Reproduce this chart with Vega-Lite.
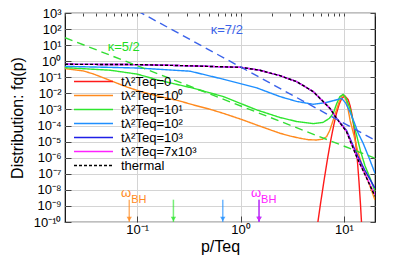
{
  "$schema": "https://vega.github.io/schema/vega-lite/v6.json",
  "width": 310,
  "height": 209,
  "autosize": "none",
  "padding": {"left": 65, "top": 13, "right": 24, "bottom": 57},
  "config": {
    "font": "Liberation Sans",
    "view": {"stroke": "black", "strokeWidth": 1.2},
    "axis": {"labelFontSize": 13, "labelColor": "black", "gridColor": "#d4d4d4", "gridWidth": 1, "domain": false, "tickColor": "#444", "titleFontWeight": "normal", "titleColor": "black", "titleFontSize": 16},
    "legend": {"padding": 0}
  },
  "resolve": {"axis": {"x": "independent", "y": "independent"}},
  "datasets": {
    "curves": [
      {"s": "tλ²Teq=0", "p": 5.4, "f": 2.1e-11},
      {"s": "tλ²Teq=0", "p": 5.6, "f": 1e-10},
      {"s": "tλ²Teq=0", "p": 6.0, "f": 2.14e-9},
      {"s": "tλ²Teq=0", "p": 6.5, "f": 6.17e-8},
      {"s": "tλ²Teq=0", "p": 7.0, "f": 1.17e-6},
      {"s": "tλ²Teq=0", "p": 7.5, "f": 1.45e-5},
      {"s": "tλ²Teq=0", "p": 8.0, "f": 1.15e-4},
      {"s": "tλ²Teq=0", "p": 8.5, "f": 6.03e-4},
      {"s": "tλ²Teq=0", "p": 9.0, "f": 2.09e-3},
      {"s": "tλ²Teq=0", "p": 9.5, "f": 4.68e-3},
      {"s": "tλ²Teq=0", "p": 10.2, "f": 7.08e-3},
      {"s": "tλ²Teq=0", "p": 11.0, "f": 4.07e-3},
      {"s": "tλ²Teq=0", "p": 11.5, "f": 1.66e-3},
      {"s": "tλ²Teq=0", "p": 12.0, "f": 4.47e-4},
      {"s": "tλ²Teq=0", "p": 12.5, "f": 7.94e-5},
      {"s": "tλ²Teq=0", "p": 13.0, "f": 8.91e-6},
      {"s": "tλ²Teq=0", "p": 13.5, "f": 6.76e-7},
      {"s": "tλ²Teq=0", "p": 14.0, "f": 3.24e-8},
      {"s": "tλ²Teq=0", "p": 14.5, "f": 1.05e-9},
      {"s": "tλ²Teq=0", "p": 14.8, "f": 1e-10},
      {"s": "tλ²Teq=0", "p": 15.0, "f": 2.1e-11},

      {"s": "tλ²Teq=10⁰", "p": 0.02, "f": 0.347},
      {"s": "tλ²Teq=10⁰", "p": 0.03, "f": 0.251},
      {"s": "tλ²Teq=10⁰", "p": 0.038, "f": 0.158},
      {"s": "tλ²Teq=10⁰", "p": 0.055, "f": 0.063},
      {"s": "tλ²Teq=10⁰", "p": 0.079, "f": 0.0251},
      {"s": "tλ²Teq=10⁰", "p": 0.11, "f": 0.0126},
      {"s": "tλ²Teq=10⁰", "p": 0.166, "f": 0.00631},
      {"s": "tλ²Teq=10⁰", "p": 0.25, "f": 0.00355},
      {"s": "tλ²Teq=10⁰", "p": 0.35, "f": 0.00191},
      {"s": "tλ²Teq=10⁰", "p": 0.5, "f": 0.00105},
      {"s": "tλ²Teq=10⁰", "p": 0.68, "f": 0.000575},
      {"s": "tλ²Teq=10⁰", "p": 1.0, "f": 0.000251},
      {"s": "tλ²Teq=10⁰", "p": 1.44, "f": 0.000107},
      {"s": "tλ²Teq=10⁰", "p": 2.0, "f": 5.01e-5},
      {"s": "tλ²Teq=10⁰", "p": 2.41, "f": 3.31e-5},
      {"s": "tλ²Teq=10⁰", "p": 3.0, "f": 2.24e-5},
      {"s": "tλ²Teq=10⁰", "p": 3.76, "f": 1.62e-5},
      {"s": "tλ²Teq=10⁰", "p": 4.5, "f": 1.32e-5},
      {"s": "tλ²Teq=10⁰", "p": 5.45, "f": 1.26e-5},
      {"s": "tλ²Teq=10⁰", "p": 6.2, "f": 1.41e-5},
      {"s": "tλ²Teq=10⁰", "p": 6.81, "f": 2.04e-5},
      {"s": "tλ²Teq=10⁰", "p": 7.3, "f": 5.01e-5},
      {"s": "tλ²Teq=10⁰", "p": 7.89, "f": 2.24e-4},
      {"s": "tλ²Teq=10⁰", "p": 8.5, "f": 1e-3},
      {"s": "tλ²Teq=10⁰", "p": 8.91, "f": 2.51e-3},
      {"s": "tλ²Teq=10⁰", "p": 9.4, "f": 5.62e-3},
      {"s": "tλ²Teq=10⁰", "p": 9.77, "f": 7.94e-3},
      {"s": "tλ²Teq=10⁰", "p": 10.2, "f": 6.31e-3},
      {"s": "tλ²Teq=10⁰", "p": 10.7, "f": 2.51e-3},
      {"s": "tλ²Teq=10⁰", "p": 11.5, "f": 2.0e-4},
      {"s": "tλ²Teq=10⁰", "p": 12.5, "f": 2.51e-5},
      {"s": "tλ²Teq=10⁰", "p": 13.5, "f": 3.16e-6},
      {"s": "tλ²Teq=10⁰", "p": 15.0, "f": 3.16e-7},
      {"s": "tλ²Teq=10⁰", "p": 17.5, "f": 2.51e-8},
      {"s": "tλ²Teq=10⁰", "p": 20.0, "f": 2.34e-9},

      {"s": "tλ²Teq=10¹", "p": 0.02, "f": 0.398},
      {"s": "tλ²Teq=10¹", "p": 0.055, "f": 0.275},
      {"s": "tλ²Teq=10¹", "p": 0.1, "f": 0.158},
      {"s": "tλ²Teq=10¹", "p": 0.166, "f": 0.0631},
      {"s": "tλ²Teq=10¹", "p": 0.35, "f": 0.0209},
      {"s": "tλ²Teq=10¹", "p": 0.682, "f": 0.00631},
      {"s": "tλ²Teq=10¹", "p": 1.436, "f": 0.000933},
      {"s": "tλ²Teq=10¹", "p": 2.41, "f": 0.000316},
      {"s": "tλ²Teq=10¹", "p": 3.5, "f": 0.000178},
      {"s": "tλ²Teq=10¹", "p": 5.05, "f": 0.000132},
      {"s": "tλ²Teq=10¹", "p": 6.3, "f": 0.000158},
      {"s": "tλ²Teq=10¹", "p": 7.24, "f": 0.000282},
      {"s": "tλ²Teq=10¹", "p": 7.89, "f": 0.000575},
      {"s": "tλ²Teq=10¹", "p": 8.5, "f": 0.00224},
      {"s": "tλ²Teq=10¹", "p": 9.14, "f": 0.00631},
      {"s": "tλ²Teq=10¹", "p": 9.84, "f": 0.00871},
      {"s": "tλ²Teq=10¹", "p": 10.5, "f": 0.00501},
      {"s": "tλ²Teq=10¹", "p": 11.43, "f": 0.00117},
      {"s": "tλ²Teq=10¹", "p": 12.3, "f": 0.000178},
      {"s": "tλ²Teq=10¹", "p": 13.27, "f": 2.5e-5},
      {"s": "tλ²Teq=10¹", "p": 14.5, "f": 2.5e-6},
      {"s": "tλ²Teq=10¹", "p": 16.0, "f": 3.16e-7},
      {"s": "tλ²Teq=10¹", "p": 18.0, "f": 5.0e-8},
      {"s": "tλ²Teq=10¹", "p": 20.0, "f": 7.94e-9},

      {"s": "tλ²Teq=10²", "p": 0.02, "f": 0.479},
      {"s": "tλ²Teq=10²", "p": 0.1, "f": 0.38},
      {"s": "tλ²Teq=10²", "p": 0.325, "f": 0.24},
      {"s": "tλ²Teq=10²", "p": 0.682, "f": 0.0759},
      {"s": "tλ²Teq=10²", "p": 1.436, "f": 0.0219},
      {"s": "tλ²Teq=10²", "p": 2.41, "f": 0.00631},
      {"s": "tλ²Teq=10²", "p": 3.49, "f": 0.00316},
      {"s": "tλ²Teq=10²", "p": 5.05, "f": 0.00209},
      {"s": "tλ²Teq=10²", "p": 6.6, "f": 0.00263},
      {"s": "tλ²Teq=10²", "p": 7.94, "f": 0.00355},
      {"s": "tλ²Teq=10²", "p": 9.51, "f": 0.0049},
      {"s": "tλ²Teq=10²", "p": 10.4, "f": 0.00251},
      {"s": "tλ²Teq=10²", "p": 11.43, "f": 0.000724},
      {"s": "tλ²Teq=10²", "p": 12.59, "f": 0.000158},
      {"s": "tλ²Teq=10²", "p": 13.77, "f": 3.31e-5},
      {"s": "tλ²Teq=10²", "p": 15.35, "f": 7.94e-6},
      {"s": "tλ²Teq=10²", "p": 17.5, "f": 1.0e-6},
      {"s": "tλ²Teq=10²", "p": 20.0, "f": 1.07e-7},

      {"s": "tλ²Teq=10³", "p": 0.02, "f": 0.646},
      {"s": "tλ²Teq=10³", "p": 0.1, "f": 0.617},
      {"s": "tλ²Teq=10³", "p": 0.3, "f": 0.525},
      {"s": "tλ²Teq=10³", "p": 1.0, "f": 0.417},
      {"s": "tλ²Teq=10³", "p": 1.51, "f": 0.282},
      {"s": "tλ²Teq=10³", "p": 2.41, "f": 0.126},
      {"s": "tλ²Teq=10³", "p": 3.49, "f": 0.0537},
      {"s": "tλ²Teq=10³", "p": 5.05, "f": 0.0129},
      {"s": "tλ²Teq=10³", "p": 7.33, "f": 0.00117},
      {"s": "tλ²Teq=10³", "p": 8.49, "f": 0.000282},
      {"s": "tλ²Teq=10³", "p": 10.6, "f": 5.01e-5},
      {"s": "tλ²Teq=10³", "p": 13.27, "f": 1.78e-6},
      {"s": "tλ²Teq=10³", "p": 15.85, "f": 1.78e-7},
      {"s": "tλ²Teq=10³", "p": 20.0, "f": 1.26e-8},

      {"s": "tλ²Teq=7x10³", "p": 0.02, "f": 0.646},
      {"s": "tλ²Teq=7x10³", "p": 0.1, "f": 0.617},
      {"s": "tλ²Teq=7x10³", "p": 0.3, "f": 0.525},
      {"s": "tλ²Teq=7x10³", "p": 1.0, "f": 0.417},
      {"s": "tλ²Teq=7x10³", "p": 1.51, "f": 0.282},
      {"s": "tλ²Teq=7x10³", "p": 2.41, "f": 0.126},
      {"s": "tλ²Teq=7x10³", "p": 3.49, "f": 0.0537},
      {"s": "tλ²Teq=7x10³", "p": 5.05, "f": 0.0129},
      {"s": "tλ²Teq=7x10³", "p": 7.33, "f": 0.00117},
      {"s": "tλ²Teq=7x10³", "p": 8.49, "f": 0.000282},
      {"s": "tλ²Teq=7x10³", "p": 10.6, "f": 4.17e-5},
      {"s": "tλ²Teq=7x10³", "p": 13.27, "f": 1.2e-6},
      {"s": "tλ²Teq=7x10³", "p": 15.85, "f": 1.05e-7},
      {"s": "tλ²Teq=7x10³", "p": 20.0, "f": 5.0e-9},

      {"s": "thermal", "p": 0.02, "f": 0.646},
      {"s": "thermal", "p": 0.1, "f": 0.617},
      {"s": "thermal", "p": 0.3, "f": 0.525},
      {"s": "thermal", "p": 1.0, "f": 0.417},
      {"s": "thermal", "p": 1.51, "f": 0.282},
      {"s": "thermal", "p": 2.41, "f": 0.126},
      {"s": "thermal", "p": 3.49, "f": 0.0537},
      {"s": "thermal", "p": 5.05, "f": 0.0129},
      {"s": "thermal", "p": 7.33, "f": 0.00117},
      {"s": "thermal", "p": 8.49, "f": 0.000282},
      {"s": "thermal", "p": 10.6, "f": 4.17e-5},
      {"s": "thermal", "p": 13.27, "f": 1.15e-6},
      {"s": "thermal", "p": 15.85, "f": 1.0e-7},
      {"s": "thermal", "p": 20.0, "f": 3.98e-9}
    ],
    "kappa": [
      {"k": "κ=7/2", "p": 0.1, "f": 1380},
      {"k": "κ=7/2", "p": 20, "f": 1.23e-5},
      {"k": "κ=5/2", "p": 0.02, "f": 29.3},
      {"k": "κ=5/2", "p": 20, "f": 9.3e-7}
    ],
    "kappaLabels": [
      {"k": "κ=7/2", "p": 0.736, "f": 87},
      {"k": "κ=5/2", "p": 0.074, "f": 8.0}
    ],
    "arrows": [
      {"s": "tλ²Teq=10⁰", "p": 0.0837, "top": 2.45e-9, "bottom": 1e-10, "head": 1.55e-10},
      {"s": "tλ²Teq=10¹", "p": 0.224, "top": 2.45e-9, "bottom": 1e-10, "head": 1.55e-10},
      {"s": "tλ²Teq=10²", "p": 0.673, "top": 2.45e-9, "bottom": 1e-10, "head": 1.55e-10},
      {"s": "tλ²Teq=10³", "p": 1.51, "top": 2.45e-9, "bottom": 1e-10, "head": 1.55e-10},
      {"s": "tλ²Teq=7x10³", "p": 1.51, "top": 2.45e-9, "bottom": 1e-10, "head": 1.55e-10}
    ],
    "omega": [
      {"s": "tλ²Teq=10⁰", "p": 0.0837, "fw": 6.5e-9, "fb": 2.5e-9},
      {"s": "tλ²Teq=7x10³", "p": 1.51, "fw": 6.5e-9, "fb": 2.5e-9}
    ]
  },
  "layer": [
    {
      "data": {"name": "curves"},
      "mark": {"type": "line", "clip": true, "strokeWidth": 1.4},
      "encoding": {
        "x": {
          "field": "p", "type": "quantitative",
          "scale": {"type": "log", "domain": [0.02, 20], "nice": false},
          "axis": {"values": [0.1, 1, 10], "labelExpr": "['10⁻¹','10⁰','10¹'][round(log(datum.value)/LN10)+1]", "grid": true, "ticks": true, "tickSize": -6, "labelPadding": 7, "title": "p/Teq", "titlePadding": 2}
        },
        "y": {
          "field": "f", "type": "quantitative",
          "scale": {"type": "log", "domain": [1e-10, 1000], "nice": false},
          "axis": {"values": [1e-10, 1e-9, 1e-8, 1e-7, 1e-6, 1e-5, 1e-4, 1e-3, 1e-2, 0.1, 1, 10, 100, 1000], "labelExpr": "['10⁻¹⁰','10⁻⁹','10⁻⁸','10⁻⁷','10⁻⁶','10⁻⁵','10⁻⁴','10⁻³','10⁻²','10⁻¹','10⁰','10¹','10²','10³'][round(log(datum.value)/LN10)+10]", "grid": true, "ticks": true, "tickSize": -6, "labelPadding": 10, "title": "Distribution: fq(p)", "titlePadding": 8}
        },
        "color": {
          "field": "s", "type": "nominal",
          "scale": {
            "domain": ["tλ²Teq=0", "tλ²Teq=10⁰", "tλ²Teq=10¹", "tλ²Teq=10²", "tλ²Teq=10³", "tλ²Teq=7x10³", "thermal"],
            "range": ["#ff1a1a", "#ff8a1e", "#2ee62e", "#1e8fff", "#1f1fe6", "#ff22ff", "#000000"]
          },
          "legend": {"title": null, "orient": "none", "legendX": 22, "legendY": 62, "symbolType": "M-3.9,0H3.9", "symbolSize": 100, "symbolStrokeWidth": 1.5, "labelFontSize": 13, "labelColor": "black", "rowPadding": -2.5, "labelOffset": 21, "encode": {"labels": {"update": {"lineHeight": {"value": 11}}}}}
        },
        "strokeDash": {
          "field": "s", "type": "nominal",
          "scale": {
            "domain": ["tλ²Teq=0", "tλ²Teq=10⁰", "tλ²Teq=10¹", "tλ²Teq=10²", "tλ²Teq=10³", "tλ²Teq=7x10³", "thermal"],
            "range": [[1, 0], [1, 0], [1, 0], [1, 0], [1, 0], [1, 0], [3, 2]]
          },
          "legend": {"title": null, "orient": "none", "legendX": 22, "legendY": 62, "symbolType": "M-3.9,0H3.9", "symbolSize": 100, "symbolStrokeWidth": 1.5, "labelFontSize": 13, "labelColor": "black", "rowPadding": -2.5, "labelOffset": 21, "encode": {"labels": {"update": {"lineHeight": {"value": 11}}}}}
        }
      }
    },
    {
      "data": {"name": "kappa"},
      "transform": [{"filter": "datum.k == 'κ=7/2'"}],
      "mark": {"type": "line", "clip": true, "strokeWidth": 1.4, "strokeDash": [8, 5], "color": "#3a62ea"},
      "encoding": {
        "x": {"field": "p", "type": "quantitative", "axis": {"orient": "top", "values": [0.02, 0.03, 0.04, 0.05, 0.06, 0.07, 0.08, 0.09, 0.1, 0.2, 0.3, 0.4, 0.5, 0.6, 0.7, 0.8, 0.9, 1, 2, 3, 4, 5, 6, 7, 8, 9, 10, 20], "labels": false, "grid": false, "ticks": true, "tickSize": -3, "title": null}},
        "y": {"field": "f", "type": "quantitative", "axis": {"orient": "right", "values": [1e-10, 1e-9, 1e-8, 1e-7, 1e-6, 1e-5, 1e-4, 1e-3, 1e-2, 0.1, 1, 10, 100, 1000], "labels": false, "grid": false, "ticks": true, "tickSize": -5, "title": null}}
      }
    },
    {
      "data": {"name": "kappa"},
      "transform": [{"filter": "datum.k == 'κ=5/2'"}],
      "mark": {"type": "line", "clip": true, "strokeWidth": 1.4, "strokeDash": [8, 5], "color": "#33dd33"},
      "encoding": {"x": {"field": "p", "type": "quantitative", "axis": null}, "y": {"field": "f", "type": "quantitative", "axis": null}}
    },
    {
      "data": {"name": "kappaLabels"},
      "transform": [{"filter": "datum.k == 'κ=7/2'"}],
      "mark": {"type": "text", "fontSize": 13, "color": "#3a62ea"},
      "encoding": {
        "x": {"field": "p", "type": "quantitative", "axis": null},
        "y": {"field": "f", "type": "quantitative", "axis": null},
        "text": {"field": "k"}
      }
    },
    {
      "data": {"name": "kappaLabels"},
      "transform": [{"filter": "datum.k == 'κ=5/2'"}],
      "mark": {"type": "text", "fontSize": 13, "color": "#22dd22"},
      "encoding": {
        "x": {"field": "p", "type": "quantitative", "axis": null},
        "y": {"field": "f", "type": "quantitative", "axis": null},
        "text": {"field": "k"}
      }
    },
    {
      "data": {"name": "arrows"},
      "mark": {"type": "rule", "strokeWidth": 1.5, "opacity": 0.65},
      "encoding": {
        "x": {"field": "p", "type": "quantitative", "axis": null},
        "y": {"field": "top", "type": "quantitative", "axis": null},
        "y2": {"field": "bottom"},
        "color": {"field": "s", "type": "nominal"}
      }
    },
    {
      "data": {"name": "arrows"},
      "mark": {"type": "point", "shape": "triangle-down", "filled": true, "size": 28, "opacity": 0.8},
      "encoding": {
        "x": {"field": "p", "type": "quantitative", "axis": null},
        "y": {"field": "head", "type": "quantitative", "axis": null},
        "color": {"field": "s", "type": "nominal"}
      }
    },
    {
      "data": {"name": "omega"},
      "mark": {"type": "text", "fontSize": 13, "align": "right", "dx": 2},
      "encoding": {
        "x": {"field": "p", "type": "quantitative", "axis": null},
        "y": {"field": "fw", "type": "quantitative", "axis": null},
        "text": {"value": "ω"},
        "color": {"field": "s", "type": "nominal"}
      }
    },
    {
      "data": {"name": "omega"},
      "mark": {"type": "text", "fontSize": 11, "align": "left", "dx": 2},
      "encoding": {
        "x": {"field": "p", "type": "quantitative", "axis": null},
        "y": {"field": "fb", "type": "quantitative", "axis": null},
        "text": {"value": "BH"},
        "color": {"field": "s", "type": "nominal"}
      }
    }
  ]
}
